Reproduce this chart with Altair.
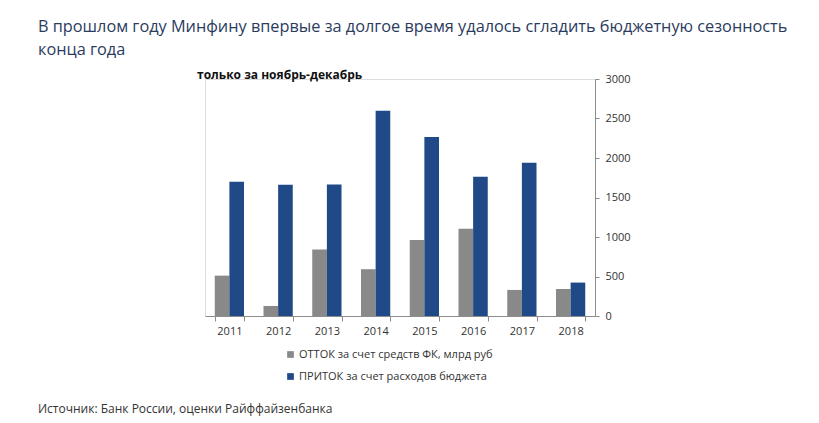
import altair as alt
import pandas as pd

years = ["2011", "2012", "2013", "2014", "2015", "2016", "2017", "2018"]
outflow = [511, 127, 841, 592, 963, 1103, 330, 342]
inflow = [1698, 1661, 1665, 2599, 2265, 1762, 1939, 423]
series_names = ["ОТТОК за счет средств ФК, млрд руб", "ПРИТОК за счет расходов бюджета"]
colors = ["#898989", "#1F4A87"]
title_lines = ["В прошлом году Минфину впервые за долгое время удалось сгладить бюджетную сезонность",
               "конца года"]
subtitle = "только за ноябрь-декабрь"
source = "Источник: Банк России, оценки Райффайзенбанка"

rows = []
for i, y in enumerate(years):
    rows.append({"year": y, "series": series_names[0], "order": 0, "value": outflow[i]})
    rows.append({"year": y, "series": series_names[1], "order": 1, "value": inflow[i]})
df = pd.DataFrame(rows)

FONT = "Open Sans"

bars = alt.Chart(df).mark_bar().encode(
    x=alt.X("year:N", sort=years, title=None,
            scale=alt.Scale(paddingInner=0.4, paddingOuter=0.2),
            axis=alt.Axis(labelAngle=0, tickBand="extent", domainColor="#8c8c8c",
                          tickColor="#8c8c8c", tickSize=5, labelFontSize=11,
                          labelColor="#333333", labelPadding=4, labelFont=FONT)),
    xOffset=alt.XOffset("order:O"),
    y=alt.Y("value:Q", title=None,
            scale=alt.Scale(domain=[0, 3000]),
            axis=alt.Axis(orient="right", values=[0, 500, 1000, 1500, 2000, 2500, 3000],
                          format="d", grid=False, domainColor="#8c8c8c", tickColor="#8c8c8c",
                          tickSize=4, labelFontSize=11, labelColor="#333333",
                          labelPadding=6, labelFont=FONT)),
    color=alt.Color("series:N", sort=series_names,
                    scale=alt.Scale(domain=series_names, range=colors),
                    legend=alt.Legend(title=None, orient="none", legendX=80, legendY=270,
                                      direction="vertical", symbolType="square",
                                      symbolSize=45, labelFontSize=11, labelColor="#333333",
                                      labelFont=FONT, rowPadding=10, symbolStrokeWidth=0,
                                      labelLimit=0, labelOffset=3)),
)

sub = alt.Chart(pd.DataFrame({"t": [subtitle]})).mark_text(
    align="left", baseline="middle", fontSize=12, fontWeight="bold", font=FONT, color="#111111"
).encode(x=alt.value(-8), y=alt.value(-4), text="t:N")

src = alt.Chart(pd.DataFrame({"t": [source]})).mark_text(
    align="left", baseline="middle", fontSize=12, font=FONT, color="#333333"
).encode(x=alt.value(-167), y=alt.value(330), text="t:N")

ttl = alt.Chart(pd.DataFrame({"t": title_lines, "dy": [-52, -29]})).mark_text(
    align="left", baseline="middle", fontSize=16.3, font=FONT, color="#2B3B5E"
).encode(x=alt.value(-167), y=alt.Y("dy:Q", scale=None), text="t:N")

chart = alt.layer(bars, sub, src, ttl).resolve_scale(y="independent").properties(
    width=390, height=237,
    autosize=alt.AutoSizeParams(type="none"),
    padding={"left": 205, "top": 79, "right": 224, "bottom": 107},
).configure_view(stroke=None).configure(background="white")

chart.save("out.html", embed_options={"renderer": "svg", "actions": False})
